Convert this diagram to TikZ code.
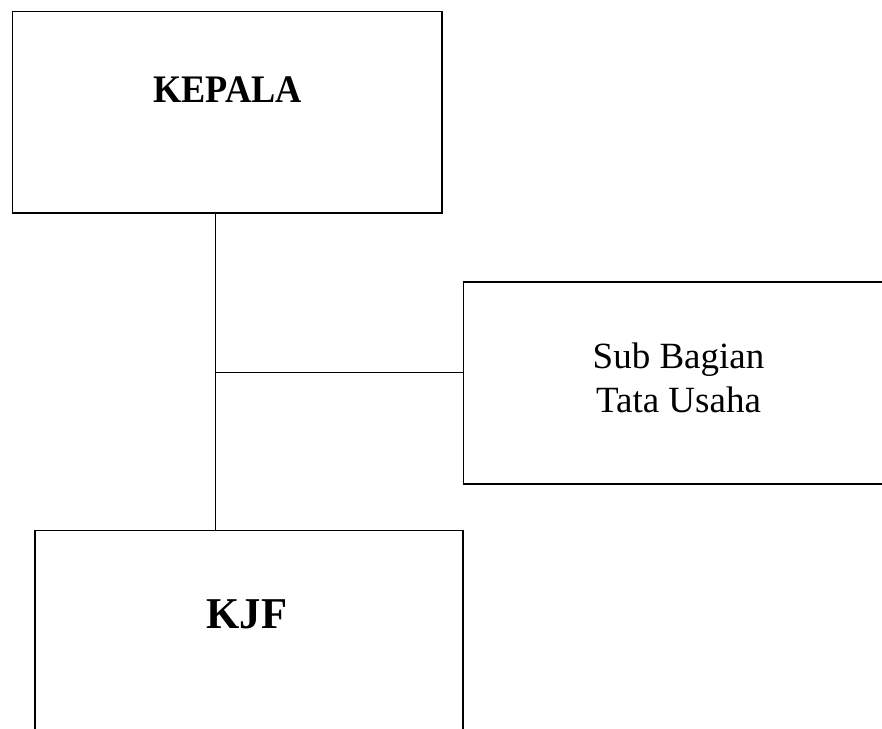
\documentclass[tikz,border=0pt]{standalone}
\usepackage{fontspec}
\setmainfont{Liberation Serif}
\begin{document}
\begin{tikzpicture}[x=1pt,y=-1pt,
  orgbox/.style={draw=black,line width=1.6pt,rectangle,inner sep=0pt,outer sep=0pt},
  conn/.style={draw=black,line width=1.6pt},
  boldlabel/.style={inner sep=0pt,anchor=base,font=\bfseries},
  plainlabel/.style={inner sep=0pt,anchor=base,font=\fontsize{37}{44}\selectfont}]
\useasboundingbox (0,0) rectangle (882,728);
\clip (0,0) rectangle (882,728);
\node[orgbox,minimum width=429.5pt,minimum height=201.5pt] (kepala) at (227.25,112.25) {};
\node[orgbox,minimum width=436.5pt,minimum height=202pt] (sub) at (681.75,383) {};
\node[orgbox,minimum width=428pt,minimum height=209.5pt] (kjf) at (249,635.25) {};
\node[boldlabel,font=\fontsize{39}{46}\selectfont\bfseries,xscale=0.93] (kepalatext) at (227.5,102) {KEPALA};
\node[plainlabel] (subtext1) at (678.5,368) {Sub Bagian};
\node[plainlabel] (subtext2) at (678.5,412) {Tata Usaha};
\node[boldlabel,font=\fontsize{44}{52}\selectfont\bfseries,xscale=0.97] (kjftext) at (247,628) {KJF};
\coordinate (j) at (215.5,372.5);
\draw[conn] (kepala.south -| j) -- (kjf.north -| j);
\draw[conn] (j) -- (j -| sub.west);
\end{tikzpicture}
\end{document}
